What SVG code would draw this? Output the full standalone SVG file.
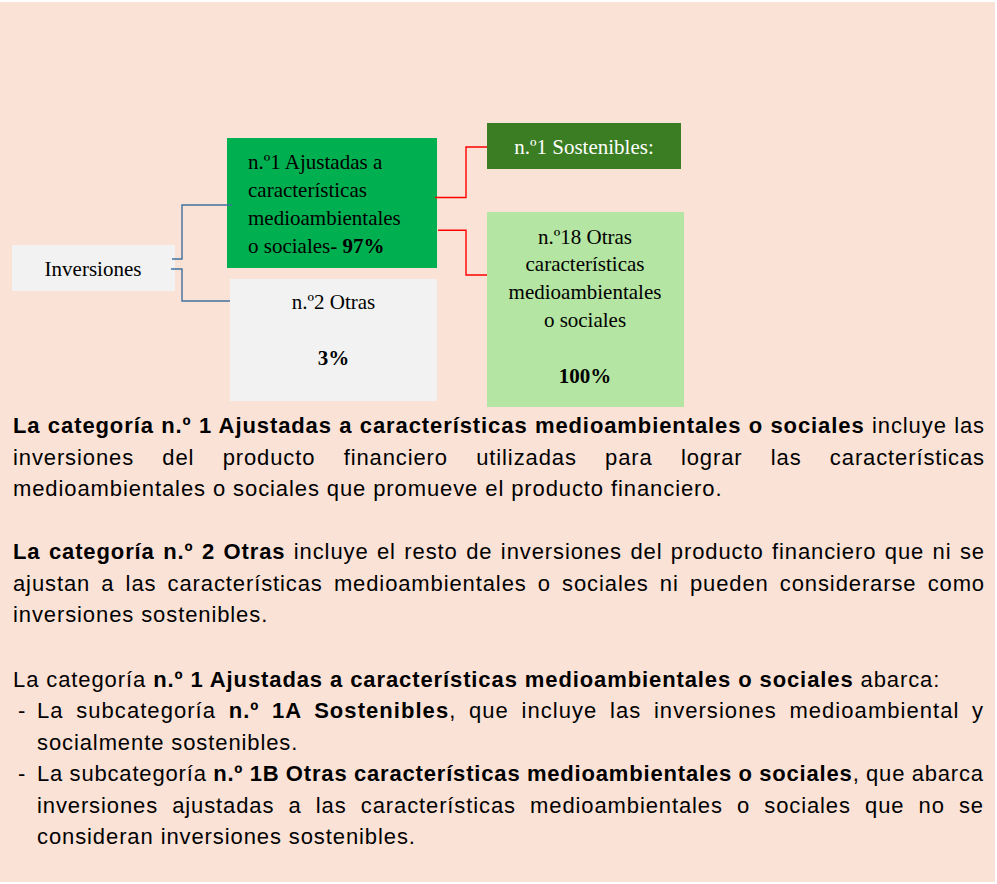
<svg xmlns="http://www.w3.org/2000/svg" width="997" height="884" viewBox="0 0 997 884">
<style>
.serif{font-family:"Liberation Serif","Times New Roman",serif;font-size:21px;fill:#000}
.body{font-family:"Liberation Sans",Arial,sans-serif;font-size:22px;letter-spacing:0.9px;fill:#000}
.b{font-weight:bold}
.blue{fill:none;stroke:#41719C;stroke-width:1.4}
.red{fill:none;stroke:#FF0000;stroke-width:1.4}
</style>
<rect x="0" y="0" width="997" height="884" fill="#FFFFFF"/>
<rect x="0" y="2" width="995" height="880" fill="#FBE2D6"/>

<g id="node-inversiones">
<rect x="12" y="245" width="163" height="46" fill="#F2F2F2"/>
<text class="serif" x="93" y="276" text-anchor="middle">Inversiones</text>
</g>
<g id="node-ajustadas">
<rect x="227" y="138" width="210" height="130" fill="#00B050"/>
<text class="serif" x="248" y="169">n.º1 Ajustadas a</text>
<text class="serif" x="248" y="197">características</text>
<text class="serif" x="248" y="225">medioambientales</text>
<text class="serif" x="248" y="253">o sociales- <tspan class="b">97%</tspan></text>
</g>
<g id="node-otras">
<rect x="230" y="279" width="207" height="122" fill="#F2F2F2"/>
<text class="serif" x="333.5" y="309" text-anchor="middle">n.º2 Otras</text>
<text class="serif b" x="333.5" y="365" text-anchor="middle">3%</text>
</g>
<g id="node-sostenibles">
<rect x="487" y="123" width="194" height="46" fill="#3A7D22"/>
<text class="serif" x="584" y="154" text-anchor="middle" fill="#FFFFFF" style="fill:#FFFFFF">n.º1 Sostenibles:</text>
</g>
<g id="node-otras-caracteristicas">
<rect x="487" y="212" width="197" height="195" fill="#B4E5A2"/>
<text class="serif" x="585" y="243.5" text-anchor="middle">n.º18 Otras</text>
<text class="serif" x="585" y="271.3" text-anchor="middle">características</text>
<text class="serif" x="585" y="299" text-anchor="middle">medioambientales</text>
<text class="serif" x="585" y="326.8" text-anchor="middle">o sociales</text>
<text class="serif b" x="585" y="382.7" text-anchor="middle">100%</text>
</g>

<g id="connectors">
<polyline class="blue" points="172,259 182,259 182,205 232,205"/>
<polyline class="blue" points="171,269 182,269 182,301 230,301"/>
<polyline class="red" points="435,197.5 466,197.5 466,147 487,147"/>
<polyline class="red" points="438,230.3 466,230.3 466,275 487,275"/>
</g>

<g id="description">
<text class="body" x="13" y="433" textLength="972" lengthAdjust="spacing" style="word-spacing:0.35px"><tspan class="b">La categoría n.º 1 Ajustadas a características medioambientales o sociales</tspan> incluye las</text>
<text class="body" x="13" y="464.5" textLength="972" lengthAdjust="spacing" style="word-spacing:21.3px">inversiones del producto financiero utilizadas para lograr las características</text>
<text class="body" x="13" y="496">medioambientales o sociales que promueve el producto financiero.</text>

<text class="body" x="13" y="559" textLength="972" lengthAdjust="spacing" style="word-spacing:1.45px"><tspan class="b">La categoría n.º 2 Otras</tspan> incluye el resto de inversiones del producto financiero que ni se</text>
<text class="body" x="13" y="590.5" textLength="972" lengthAdjust="spacing" style="word-spacing:4.17px">ajustan a las características medioambientales o sociales ni pueden considerarse como</text>
<text class="body" x="13" y="622">inversiones sostenibles.</text>

<text class="body" x="13" y="686.5">La categoría <tspan class="b">n.º 1 Ajustadas a características medioambientales o sociales</tspan> abarca:</text>
<text class="body" x="18" y="718">-</text>
<text class="body" x="37" y="718" textLength="947" lengthAdjust="spacing" style="word-spacing:5.5px">La subcategoría <tspan class="b">n.º 1A Sostenibles</tspan>, que incluye las inversiones medioambiental y</text>
<text class="body" x="37" y="749.5">socialmente sostenibles.</text>
<text class="body" x="18" y="781">-</text>
<text class="body" x="37" y="781" textLength="947" lengthAdjust="spacing" style="word-spacing:-0.5px">La subcategoría <tspan class="b">n.º 1B Otras características medioambientales o sociales</tspan>, que abarca</text>
<text class="body" x="37" y="812.5" textLength="947" lengthAdjust="spacing" style="word-spacing:7.17px">inversiones ajustadas a las características medioambientales o sociales que no se</text>
<text class="body" x="37" y="844">consideran inversiones sostenibles.</text>
</g>
</svg>
